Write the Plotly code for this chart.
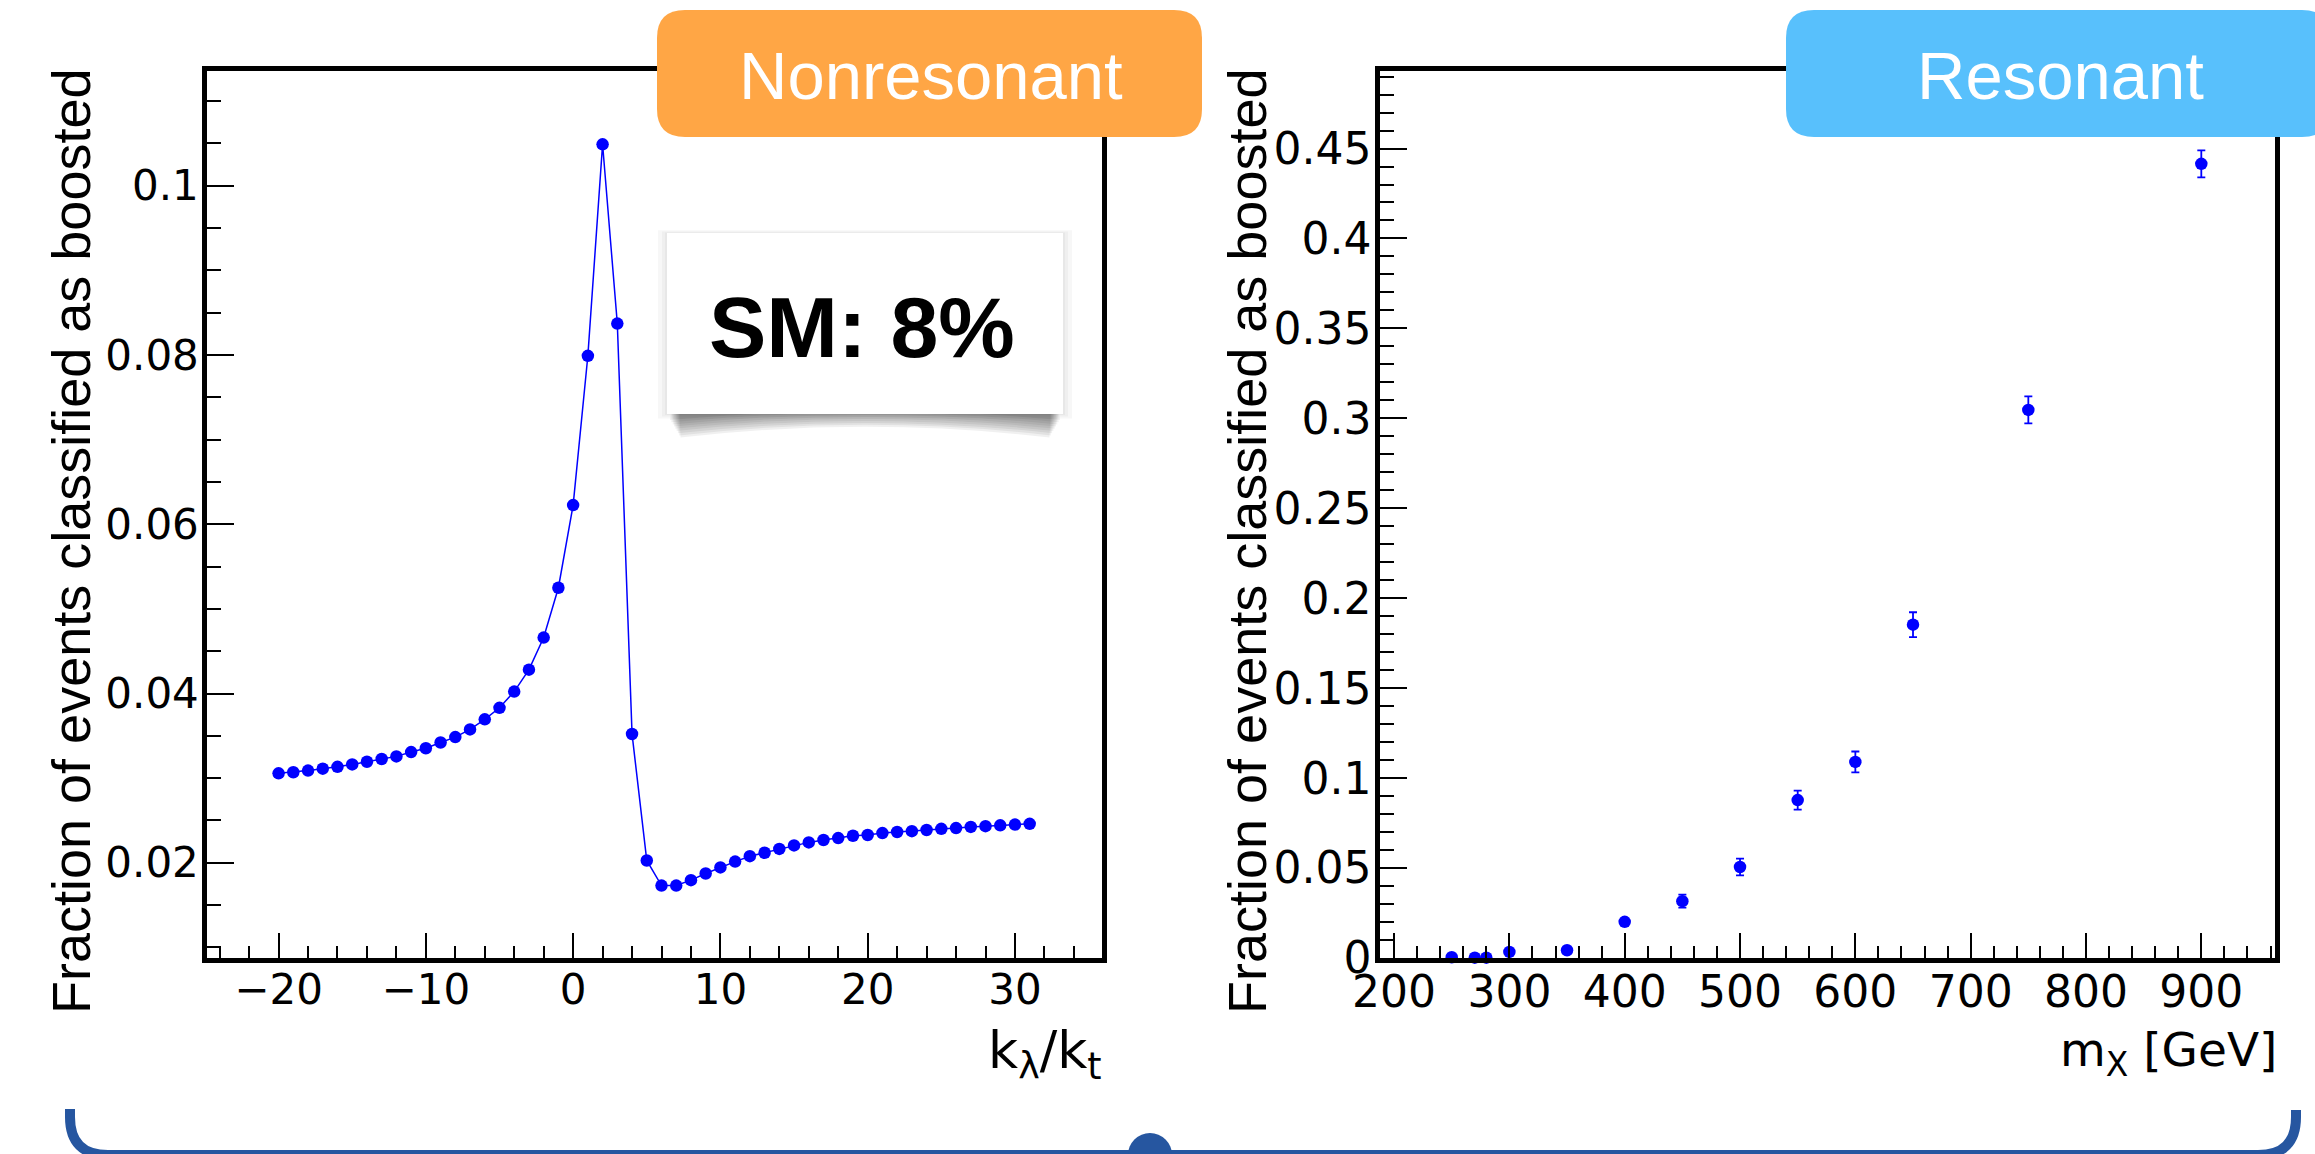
import plotly.graph_objects as go

# ---------------- data ----------------
# Nonresonant: fraction of events classified as boosted vs k_lambda / k_t
kl_values = list(range(-20, 32))
frac_nonres = [
    0.03057, 0.03070, 0.03089, 0.03112, 0.03134, 0.03162, 0.03194, 0.03226,
    0.03257, 0.03308, 0.03353, 0.03421, 0.03485, 0.03576, 0.03695, 0.03831,
    0.04023, 0.04282, 0.04661, 0.05250, 0.06226, 0.07990, 0.10489, 0.08371,
    0.03522, 0.02027, 0.01731, 0.01731, 0.01795, 0.01873, 0.01945, 0.02014,
    0.02078, 0.02119, 0.02164, 0.02205, 0.02241, 0.02269, 0.02292, 0.02319,
    0.02328, 0.02351, 0.02364, 0.02374, 0.02387, 0.02401, 0.02410, 0.02424,
    0.02433, 0.02442, 0.02451, 0.02460,
]

# Resonant: fraction of events classified as boosted vs m_X
mx_values = [250, 270, 280, 300, 350, 400, 450, 500, 550, 600, 650, 750, 900]
frac_res = [0.0004, 0.0002, 0.0002, 0.0034, 0.0043, 0.0201, 0.0316, 0.0506,
            0.0878, 0.1090, 0.1853, 0.3047, 0.4415]
frac_res_err = [0.0003, 0.0002, 0.0002, 0.0008, 0.0010, 0.0018, 0.0036, 0.0047,
                0.0053, 0.0058, 0.0069, 0.0075, 0.0075]

# tick labels
left_x_ticks = [-20, -10, 0, 10, 20, 30]
left_x_labels = ["\u221220", "\u221210", "0", "10", "20", "30"]
left_y_ticks = [0.02, 0.04, 0.06, 0.08, 0.1]
left_y_labels = ["0.02", "0.04", "0.06", "0.08", "0.1"]
right_x_ticks = [200, 300, 400, 500, 600, 700, 800, 900]
right_x_labels = ["200", "300", "400", "500", "600", "700", "800", "900"]
right_y_ticks = [0, 0.05, 0.1, 0.15, 0.2, 0.25, 0.3, 0.35, 0.4, 0.45]
right_y_labels = ["0", "0.05", "0.1", "0.15", "0.2", "0.25", "0.3", "0.35", "0.4", "0.45"]

# ---------------- layout helpers ----------------
W, H = 2315, 1154
FONT = "Liberation Sans, Arial, Helvetica, sans-serif"
WIDE = "DejaVu Sans, Verdana, sans-serif"
BLUE = "#0000ff"
BRACE = "#2656a0"


def px(x):
    return x / W


def py(y):
    return 1 - y / H


def rounded_rect(x0, y0, x1, y1, r):
    """SVG path (paper coords) for a rounded rectangle given in pixels."""
    pts = [
        ("M", (x0 + r, y0)), ("L", (x1 - r, y0)), ("Q", (x1, y0), (x1, y0 + r)),
        ("L", (x1, y1 - r)), ("Q", (x1, y1), (x1 - r, y1)),
        ("L", (x0 + r, y1)), ("Q", (x0, y1), (x0, y1 - r)),
        ("L", (x0, y0 + r)), ("Q", (x0, y0), (x0 + r, y0)),
    ]
    out = []
    for cmd, *ps in pts:
        out.append(cmd + " " + " ".join(f"{px(a):.5f},{py(b):.5f}" for a, b in ps))
    return " ".join(out) + " Z"


fig = go.Figure()

fig.add_trace(go.Scatter(
    x=kl_values, y=frac_nonres, mode="lines+markers",
    line=dict(color=BLUE, width=1.5),
    marker=dict(color=BLUE, size=12.5, line=dict(width=0)),
    xaxis="x", yaxis="y", cliponaxis=False, showlegend=False,
))

fig.add_trace(go.Scatter(
    x=mx_values, y=frac_res, mode="markers",
    marker=dict(color=BLUE, size=12.5, line=dict(width=0)),
    error_y=dict(type="data", array=frac_res_err, color=BLUE, thickness=1.8, width=4),
    xaxis="x2", yaxis="y2", cliponaxis=False, showlegend=False,
))

y_dom = [py(958), py(71)]

common = dict(
    showline=True, linecolor="black", linewidth=4.5, mirror=True,
    ticks="inside", tickcolor="black", tickwidth=2,
    showgrid=False, zeroline=False, fixedrange=True, automargin=False,
)

fig.update_layout(
    width=W, height=H,
    margin=dict(l=0, r=0, t=0, b=0, pad=0),
    paper_bgcolor="white", plot_bgcolor="white",
    font=dict(family=FONT, color="black"),
    xaxis=dict(
        domain=[px(207), px(1102)], range=[-24.86, 35.91],
        tickvals=left_x_ticks, ticktext=left_x_labels, ticklen=25,
        minor=dict(dtick=2, tick0=0, ticks="inside", ticklen=12, tickwidth=2, tickcolor="black"),
        tickfont=dict(size=42, family=WIDE), ticklabelstandoff=-9, anchor="y", **common,
    ),
    yaxis=dict(
        domain=y_dom, range=[0.00875, 0.11355],
        tickvals=left_y_ticks, ticktext=left_y_labels, ticklen=27,
        minor=dict(dtick=0.005, tick0=0, ticks="inside", ticklen=14, tickwidth=2, tickcolor="black"),
        tickfont=dict(size=42, family=WIDE), ticklabelstandoff=-5, anchor="x", **common,
    ),
    xaxis2=dict(
        domain=[px(1380), px(2275)], range=[187.8, 963.9],
        tickvals=right_x_ticks, ticktext=right_x_labels, ticklen=25,
        minor=dict(dtick=20, tick0=0, ticks="inside", ticklen=12, tickwidth=2, tickcolor="black"),
        tickfont=dict(size=44, family=WIDE), ticklabelstandoff=-9, anchor="y2", **common,
    ),
    yaxis2=dict(
        domain=y_dom, range=[0, 0.4931],
        tickvals=right_y_ticks, ticktext=right_y_labels, ticklen=27,
        minor=dict(dtick=0.01, tick0=0, ticks="inside", ticklen=14, tickwidth=2, tickcolor="black"),
        tickfont=dict(size=44, family=WIDE), ticklabelstandoff=-5, anchor="x2", **common,
    ),
)

shapes = []

# "SM" label box: soft curled shadow underneath, then the white card
for i in range(9):
    d = i * 2.2
    shapes.append(dict(
        type="path", xref="paper", yref="paper", layer="above",
        path=(f"M {px(672 + d * 0.4):.5f},{py(404):.5f} L {px(1058 - d * 0.4):.5f},{py(404):.5f} "
              f"L {px(1060 - d * 0.6):.5f},{py(420 + d):.5f} "
              f"Q {px(865):.5f},{py(402 + d * 0.8):.5f} {px(670 + d * 0.6):.5f},{py(420 + d):.5f} Z"),
        fillcolor="black", opacity=0.06, line=dict(width=0),
    ))
for g in (2, 5, 9):
    shapes.append(dict(
        type="rect", xref="paper", yref="paper", layer="above",
        x0=px(667 - g), x1=px(1063 + g), y0=py(414 + g * 0.5), y1=py(233 - g * 0.3),
        fillcolor="black", opacity=0.03, line=dict(width=0),
    ))
shapes.append(dict(
    type="rect", xref="paper", yref="paper", layer="above",
    x0=px(667), x1=px(1063), y0=py(414), y1=py(233),
    fillcolor="white", line=dict(width=0),
))

# category tags
shapes.append(dict(
    type="path", xref="paper", yref="paper", layer="above",
    path=rounded_rect(657, 10, 1202, 137, 28),
    fillcolor="#ffa645", line=dict(width=0),
))
shapes.append(dict(
    type="path", xref="paper", yref="paper", layer="above",
    path=rounded_rect(1786, 10, 2330, 137, 28),
    fillcolor="#58c0fc", line=dict(width=0),
))

# bracket joining both panels
shapes.append(dict(
    type="path", xref="paper", yref="paper", layer="above",
    path=(f"M {px(70)},{py(1109)} L {px(70)},{py(1117)} "
          f"Q {px(70)},{py(1155)} {px(108)},{py(1155)} "
          f"L {px(2258)},{py(1155)} Q {px(2296)},{py(1155)} {px(2296)},{py(1117)} "
          f"L {px(2296)},{py(1110)}"),
    line=dict(color=BRACE, width=10), fillcolor="rgba(0,0,0,0)",
))
shapes.append(dict(
    type="circle", xref="paper", yref="paper", layer="above",
    x0=px(1128), x1=px(1172), y0=py(1177), y1=py(1133),
    fillcolor=BRACE, line=dict(width=0),
))

fig.update_layout(shapes=shapes)

ytitle = "Fraction of events classified as boosted"
annotations = [
    dict(text=ytitle, x=px(71), y=py(66), xref="paper", yref="paper",
         xanchor="center", yanchor="top", textangle=-90, showarrow=False,
         font=dict(size=54)),
    dict(text=ytitle, x=px(1247), y=py(66), xref="paper", yref="paper",
         xanchor="center", yanchor="top", textangle=-90, showarrow=False,
         font=dict(size=54)),
    dict(text="k<sub>\u03bb</sub>/k<sub>t</sub>", x=px(1104), y=py(1018),
         xref="paper", yref="paper", xanchor="right", yanchor="top",
         showarrow=False, font=dict(size=52, family=WIDE)),
    dict(text="m<sub>X</sub> [GeV]", x=px(2279), y=py(1020),
         xref="paper", yref="paper", xanchor="right", yanchor="top",
         showarrow=False, font=dict(size=47, family=WIDE)),
    dict(text="<b>SM: 8%</b>", x=px(862), y=py(327), xref="paper", yref="paper",
         xanchor="center", yanchor="middle", showarrow=False,
         font=dict(size=86, color="black")),
    dict(text="Nonresonant", x=px(931), y=py(75), xref="paper", yref="paper",
         xanchor="center", yanchor="middle", showarrow=False,
         font=dict(size=67, color="white")),
    dict(text="Resonant", x=px(2060), y=py(75), xref="paper", yref="paper",
         xanchor="center", yanchor="middle", showarrow=False,
         font=dict(size=67, color="white")),
]
fig.update_layout(annotations=annotations)

fig.write_html("out.html")
